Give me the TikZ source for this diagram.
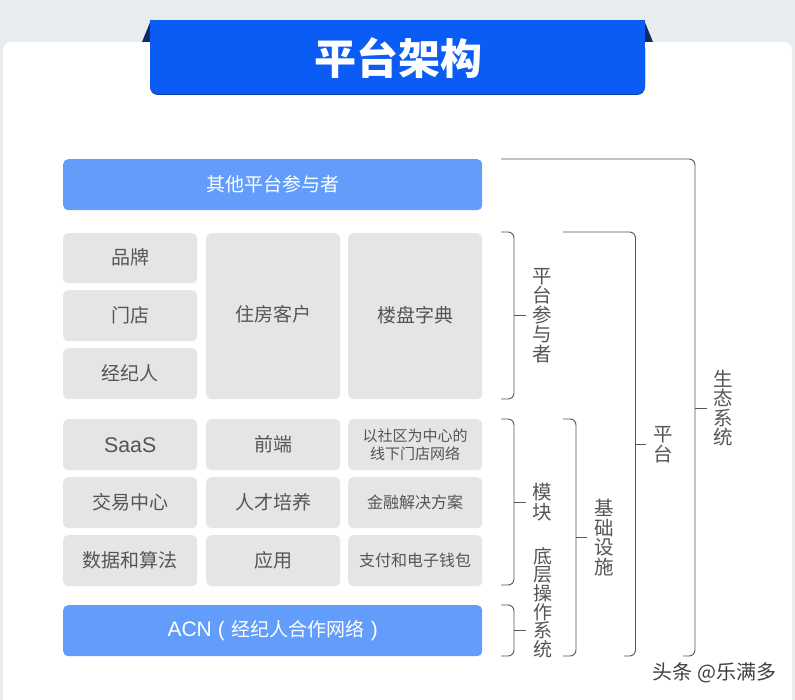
\documentclass[tikz,border=0pt]{standalone}
\usepackage{fontspec}
\setmainfont{Noto Sans CJK SC}
\newfontfamily\latinfont{Liberation Sans}
\newcommand{\upby}[2]{\raisebox{#1}[\height][\depth]{#2}}
\definecolor{bgout}{HTML}{E9ECEF}
\definecolor{titleblue}{HTML}{0A5CF5}
\definecolor{titleedge}{HTML}{0A3FA8}
\definecolor{navy}{HTML}{102A66}
\definecolor{lightblue}{HTML}{629DFB}
\definecolor{cellgray}{HTML}{E5E5E5}
\definecolor{txt}{HTML}{555555}
\definecolor{brk}{HTML}{555555}
\tikzset{
  x=1pt,y=-1pt,
  cell/.style={fill=cellgray,rounded corners=5pt,draw=none,inner sep=0pt,text=txt,font=\fontsize{19}{22}\selectfont,align=center},
  smallcell/.style={cell,font=\fontsize{15}{18}\selectfont},
  midcell/.style={cell,font=\fontsize{16}{20}\selectfont},
  bluebar/.style={fill=lightblue,rounded corners=5pt,draw=none,inner sep=0pt,text=white,font=\fontsize{19}{22}\selectfont},
  vtext/.style={text=txt,font=\fontsize{19.5}{19.6}\selectfont,align=center,inner xsep=7pt,inner ysep=0pt},
  brace/.style={draw=brk,line width=0.9pt,rounded corners=6pt},
  tick/.style={draw=brk,line width=0.9pt},
}
\newcommand{\cellat}[7][cell]{\node[#1,minimum width=#4pt-#2pt,minimum height=#5pt-#3pt,anchor=north west] (#6) at (#2,#3) {#7};}
\begin{document}
\begin{tikzpicture}
\useasboundingbox (0,0) rectangle (795,700);
\fill[bgout] (0,0) rectangle (795,700);
\fill[white,rounded corners=8pt] (3,42) -- (792,42) -- (792,720) -- (3,720) -- cycle;
% title ribbon
\fill[navy] (151,20) -- (142,42) -- (160,42) -- cycle;
\fill[navy] (644,20) -- (653,42) -- (635,42) -- cycle;
\fill[titleedge,rounded corners=8pt] (150,40) -- (150,95) -- (645,95) -- (645,40) -- cycle;
\fill[titleblue,rounded corners=8pt] (150,40) -- (150,94) -- (645,94) -- (645,40) -- cycle;
\fill[titleblue] (150,20) rectangle (645,45);
\node[text=white,inner sep=0pt,font=\fontsize{42}{42}\selectfont\bfseries] (title) at (398.5,58) {平台架构};
% bars
\cellat[bluebar]{63}{159}{482}{210}{others}{其他平台参与者}
\cellat[bluebar]{63}{605}{482}{656}{acn}{{\latinfont\fontsize{21}{22}\selectfont ACN\hspace{6pt}(\hspace{7pt}}经纪人合作网络{\latinfont\fontsize{21}{22}\selectfont\hspace{6pt})\hspace{4pt}}}
% cells
\cellat{63}{233}{197}{283}{brand}{\upby{1pt}{品牌}}
\cellat{63}{290}{197}{341}{store}{门店}
\cellat{63}{348}{197}{399}{agent}{经纪人}
\cellat{206}{233}{340}{399}{client}{\upby{1.5pt}{住房客户}}
\cellat{348}{233}{482}{399}{dict}{\upby{1.5pt}{楼盘字典}}
\cellat{63}{419}{197}{470}{saas}{{\latinfont\fontsize{21.3}{22}\selectfont SaaS}}
\cellat{206}{419}{340}{470}{front}{前端}
\cellat[smallcell]{348}{419}{482}{470}{community}{以社区为中心的\\线下门店网络}
\cellat{63}{477}{197}{528}{trade}{交易中心}
\cellat{206}{477}{340}{528}{talent}{人才培养}
\cellat[midcell]{348}{477}{482}{528}{finance}{金融解决方案}
\cellat{63}{535}{197}{586}{data}{数据和算法}
\cellat{206}{535}{340}{586}{app}{应用}
\cellat[midcell]{348}{535}{482}{586}{pay}{支付和电子钱包}
% labels
\node[vtext] (lp) at (542.5,315.5) {平\\台\\参\\与\\者};
\node[vtext] (lm) at (542.5,502) {模\\块};
\node[vtext,font=\fontsize{19}{18.6}\selectfont] (lo) at (542.5,602.5) {底\\层\\操\\作\\系\\统};
\node[vtext] (li) at (604,537.5) {基\\础\\设\\施};
\node[vtext] (lf) at (663,444.5) {平\\台};
\node[vtext] (le) at (723.5,408) {生\\态\\系\\统};
\node[text=black!75,inner sep=0pt,font=\fontsize{20}{20}\selectfont] (mark) at (714.5,673) {头条 @乐满多};
% bracket coordinates
\coordinate (b1a) at (501,232); \coordinate (b1b) at (501,399); \coordinate (b1t) at (514,315.5);
\coordinate (b2a) at (501,419); \coordinate (b2b) at (501,585); \coordinate (b2t) at (514,502);
\coordinate (b3a) at (501,605); \coordinate (b3b) at (501,656); \coordinate (b3t) at (514,630);
\coordinate (b4a) at (563,419); \coordinate (b4b) at (563,656); \coordinate (b4t) at (576,537.5);
\coordinate (b5a) at (563,232); \coordinate (b5b) at (624,656); \coordinate (b5t) at (635.5,444.5);
\coordinate (b6a) at (501,159); \coordinate (b6b) at (683,656); \coordinate (b6t) at (695,408);
% brackets
\draw[brace] (b1a) -| (b1t) |- (b1b);
\draw[brace] (b2a) -| (b2t) |- (b2b);
\draw[brace] (b3a) -| (b3t) |- (b3b);
\draw[brace] (b4a) -| (b4t) |- (b4b);
\draw[brace] (b5a) -| (b5t) |- (b5b);
\draw[brace] (b6a) -| (b6t) |- (b6b);
% ticks
\draw[tick] (b1t) -- (b1t -| lp.west);
\draw[tick] (b2t) -- (b2t -| lm.west);
\draw[tick] (b3t) -- (b3t -| lo.west);
\draw[tick] (b4t) -- (b4t -| li.west);
\draw[tick] (b5t) -- (b5t -| lf.west);
\draw[tick] (b6t) -- (b6t -| le.west);
\end{tikzpicture}
\end{document}
